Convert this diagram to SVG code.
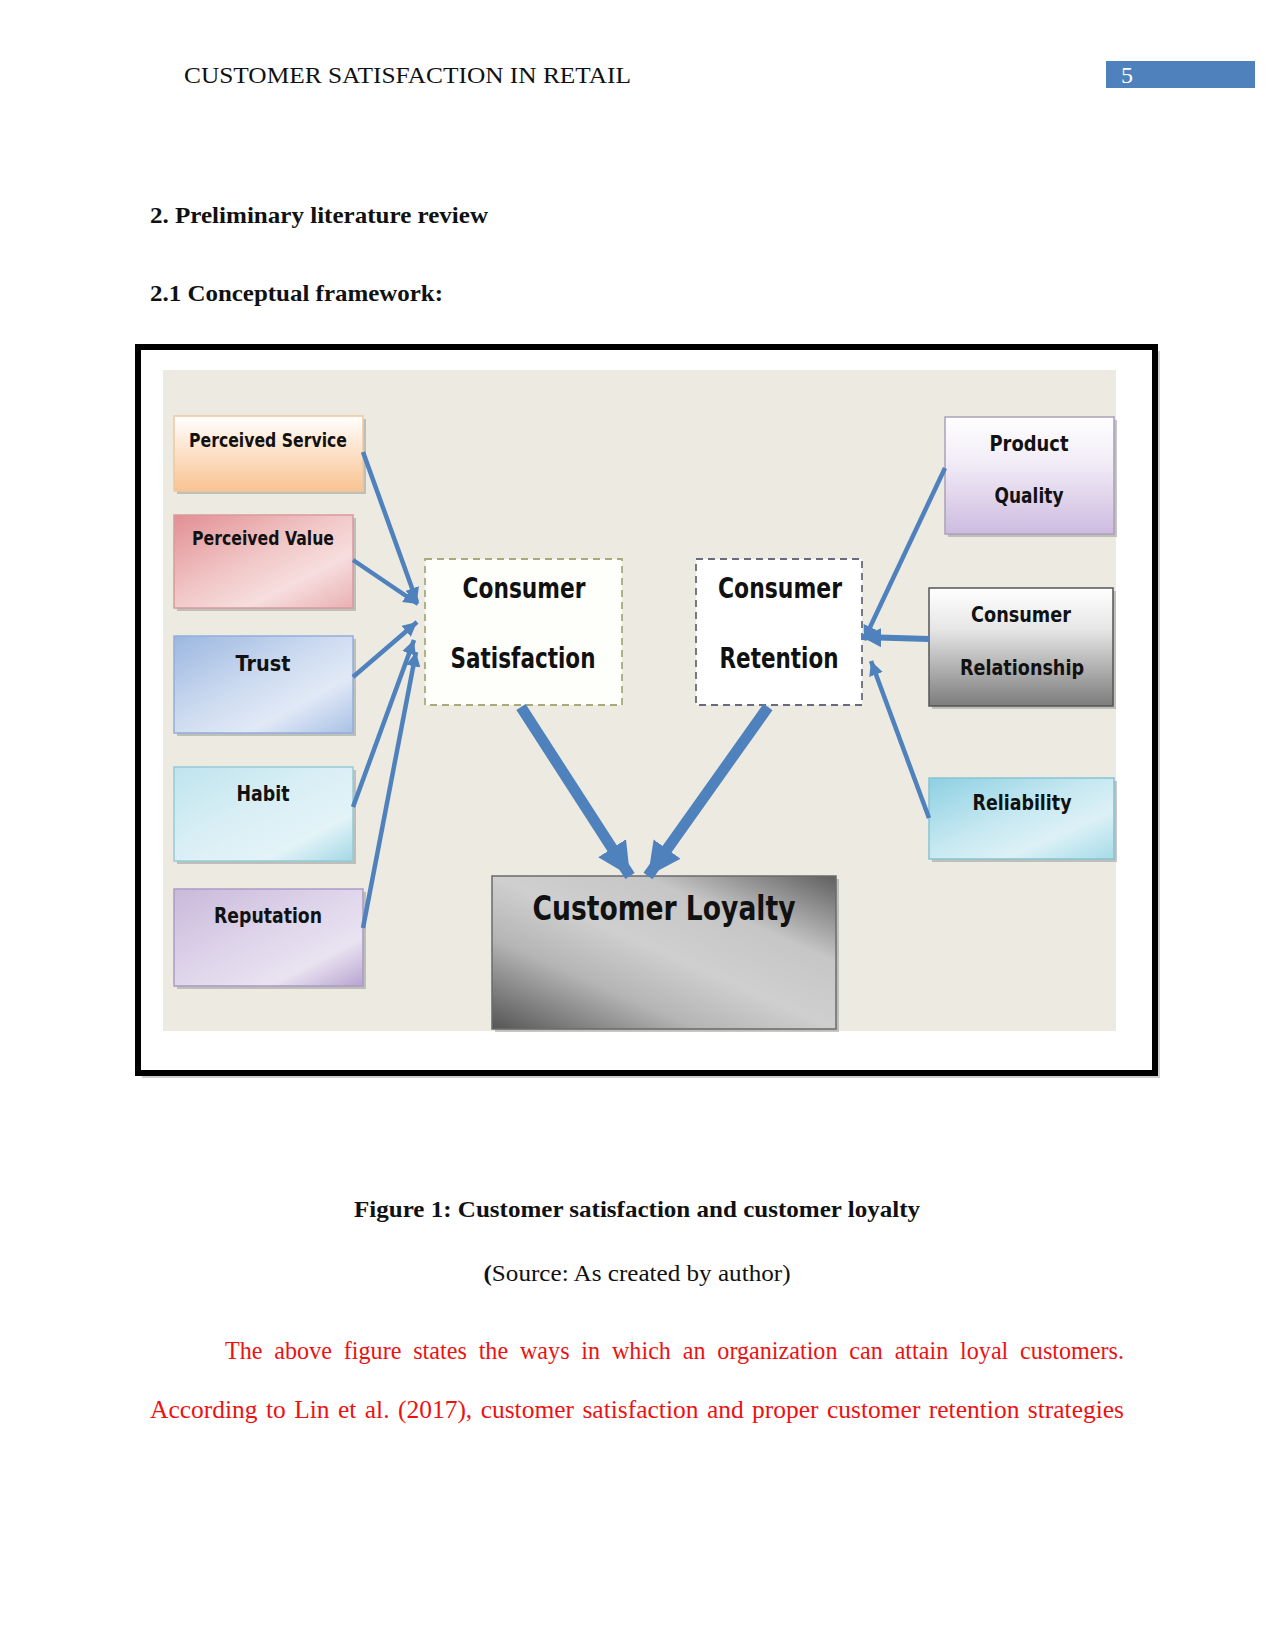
<svg xmlns="http://www.w3.org/2000/svg" width="1275" height="1650" viewBox="0 0 1275 1650">
<defs>
<style>
.serif{font-family:"Liberation Serif","Times New Roman",serif;}
.lbl{font-family:"DejaVu Sans","Verdana",sans-serif;font-weight:bold;fill:#111;text-anchor:middle;}
.conn{stroke:#4F81BD;fill:none;stroke-linecap:butt;}
.box{stroke-width:1.5;}
.shadow{fill:#9a9a9a;opacity:0.55;}
</style>
<marker id="ah" viewBox="0 0 10 10" refX="10" refY="5" markerWidth="3.2" markerHeight="3.2" orient="auto" markerUnits="strokeWidth">
<path d="M0,0 L10,5 L0,10 Z" fill="#4F81BD"/>
</marker>
<marker id="ahb" viewBox="0 0 10 10" refX="10" refY="5" markerWidth="3" markerHeight="3.2" orient="auto" markerUnits="strokeWidth">
<path d="M0,0 L10,5 L0,10 Z" fill="#4F81BD"/>
</marker>
<linearGradient id="gPS" x1="0" y1="0" x2="0" y2="1">
<stop offset="0" stop-color="#ffffff"/><stop offset="0.45" stop-color="#fde3cc"/><stop offset="1" stop-color="#f9c391"/>
</linearGradient>
<linearGradient id="gPV" x1="0" y1="0" x2="1" y2="1">
<stop offset="0" stop-color="#e28f93"/><stop offset="0.45" stop-color="#f1c6c6"/><stop offset="0.7" stop-color="#f7dede"/><stop offset="1" stop-color="#e9b0b2"/>
</linearGradient>
<linearGradient id="gTR" x1="0" y1="0" x2="1" y2="1">
<stop offset="0" stop-color="#9bb7e0"/><stop offset="0.45" stop-color="#cddbf0"/><stop offset="0.7" stop-color="#e1e9f6"/><stop offset="1" stop-color="#a9c1e6"/>
</linearGradient>
<linearGradient id="gHA" x1="0" y1="0" x2="1" y2="1">
<stop offset="0" stop-color="#bfe4ee"/><stop offset="0.45" stop-color="#d9eff5"/><stop offset="0.75" stop-color="#e3f3f8"/><stop offset="1" stop-color="#a2d8e5"/>
</linearGradient>
<linearGradient id="gRE" x1="0" y1="0" x2="1" y2="1">
<stop offset="0" stop-color="#c8b9da"/><stop offset="0.45" stop-color="#ded4ea"/><stop offset="0.75" stop-color="#e9e3f1"/><stop offset="1" stop-color="#b8a4d0"/>
</linearGradient>
<linearGradient id="gPQ" x1="0" y1="0" x2="0" y2="1">
<stop offset="0" stop-color="#ffffff"/><stop offset="0.4" stop-color="#f1ebf6"/><stop offset="1" stop-color="#cdbbe0"/>
</linearGradient>
<linearGradient id="gCR" x1="0" y1="0" x2="0" y2="1">
<stop offset="0" stop-color="#ffffff"/><stop offset="0.35" stop-color="#e6e6e6"/><stop offset="1" stop-color="#7c7c7c"/>
</linearGradient>
<linearGradient id="gRL" x1="0" y1="0" x2="1" y2="1">
<stop offset="0" stop-color="#8dd0e2"/><stop offset="0.45" stop-color="#c6e8f1"/><stop offset="0.7" stop-color="#dcf1f6"/><stop offset="1" stop-color="#a6dbe8"/>
</linearGradient>
<linearGradient id="gCL" x1="0" y1="1" x2="1" y2="0">
<stop offset="0" stop-color="#555555"/><stop offset="0.3" stop-color="#b5b5b5"/><stop offset="0.5" stop-color="#cfcfcf"/><stop offset="0.72" stop-color="#c6c6c6"/><stop offset="1" stop-color="#5f5f5f"/>
</linearGradient>
</defs>

<rect x="0" y="0" width="1275" height="1650" fill="#ffffff"/>

<!-- header -->
<g id="header">
<text class="serif" x="184" y="83" font-size="24" fill="#111" textLength="447" lengthAdjust="spacingAndGlyphs">CUSTOMER SATISFACTION IN RETAIL</text>
<rect x="1106" y="61" width="149" height="27" fill="#4F81BD"/>
<text class="serif" x="1121" y="83" font-size="24" fill="#ffffff">5</text>
</g>

<g id="headings">
<text class="serif" x="150" y="223" font-size="24" font-weight="bold" fill="#111" textLength="338" lengthAdjust="spacingAndGlyphs">2. Preliminary literature review</text>
<text class="serif" x="150" y="301" font-size="24" font-weight="bold" fill="#111" textLength="293" lengthAdjust="spacingAndGlyphs">2.1 Conceptual framework:</text>
</g>

<!-- figure frame -->
<g id="frame">
<rect x="142" y="351" width="1018" height="727" fill="#a0a0a0" opacity="0.5"/>
<rect x="138" y="347" width="1017" height="726" fill="#ffffff" stroke="#000000" stroke-width="6"/>
<rect x="163" y="370" width="953" height="661" fill="#eceae1"/>
</g>

<!-- left nodes -->
<g id="perceived-service">
<rect class="shadow" x="177" y="419" width="189" height="75"/>
<rect class="box" x="174" y="416" width="189" height="75" fill="url(#gPS)" stroke="#f0c8a0"/>
<text class="lbl" x="268" y="447" font-size="20" textLength="158" lengthAdjust="spacingAndGlyphs">Perceived Service</text>
</g>
<g id="perceived-value">
<rect class="shadow" x="177" y="518" width="179" height="93"/>
<rect class="box" x="174" y="515" width="179" height="93" fill="url(#gPV)" stroke="#d99a9c"/>
<text class="lbl" x="263" y="545" font-size="20" textLength="142" lengthAdjust="spacingAndGlyphs">Perceived Value</text>
</g>
<g id="trust">
<rect class="shadow" x="177" y="639" width="179" height="97"/>
<rect class="box" x="174" y="636" width="179" height="97" fill="url(#gTR)" stroke="#93aedb"/>
<text class="lbl" x="263" y="671" font-size="22" textLength="55" lengthAdjust="spacingAndGlyphs">Trust</text>
</g>
<g id="habit">
<rect class="shadow" x="177" y="770" width="179" height="94"/>
<rect class="box" x="174" y="767" width="179" height="94" fill="url(#gHA)" stroke="#94cbd9"/>
<text class="lbl" x="263" y="801" font-size="22" textLength="53" lengthAdjust="spacingAndGlyphs">Habit</text>
</g>
<g id="reputation">
<rect class="shadow" x="177" y="892" width="189" height="97"/>
<rect class="box" x="174" y="889" width="189" height="97" fill="url(#gRE)" stroke="#ad9ac6"/>
<text class="lbl" x="268" y="923" font-size="22" textLength="108" lengthAdjust="spacingAndGlyphs">Reputation</text>
</g>

<!-- center nodes -->
<g id="consumer-satisfaction">
<rect x="425" y="559" width="197" height="146" fill="#fefefa" stroke="#a9aa7c" stroke-width="1.8" stroke-dasharray="7,5"/>
<text class="lbl" x="524" y="598" font-size="29" textLength="123" lengthAdjust="spacingAndGlyphs">Consumer</text>
<text class="lbl" x="523" y="668" font-size="29" textLength="145" lengthAdjust="spacingAndGlyphs">Satisfaction</text>
</g>
<g id="consumer-retention">
<rect x="696" y="559" width="166" height="146" fill="#ffffff" stroke="#6a6a7c" stroke-width="1.8" stroke-dasharray="7,5"/>
<text class="lbl" x="780" y="598" font-size="29" textLength="124" lengthAdjust="spacingAndGlyphs">Consumer</text>
<text class="lbl" x="779" y="668" font-size="29" textLength="119" lengthAdjust="spacingAndGlyphs">Retention</text>
</g>
<g id="customer-loyalty">
<rect class="shadow" x="495" y="879" width="344" height="153"/>
<rect class="box" x="492" y="876" width="344" height="153" fill="url(#gCL)" stroke="#6b6b6b"/>
<text class="lbl" x="664" y="920" font-size="34" textLength="263" lengthAdjust="spacingAndGlyphs">Customer Loyalty</text>
</g>

<!-- right nodes -->
<g id="product-quality">
<rect class="shadow" x="948" y="420" width="169" height="117"/>
<rect class="box" x="945" y="417" width="169" height="117" fill="url(#gPQ)" stroke="#a9a3b8"/>
<text class="lbl" x="1029" y="451" font-size="22" textLength="79" lengthAdjust="spacingAndGlyphs">Product</text>
<text class="lbl" x="1029" y="503" font-size="22" textLength="69" lengthAdjust="spacingAndGlyphs">Quality</text>
</g>
<g id="consumer-relationship">
<rect class="shadow" x="932" y="591" width="184" height="118"/>
<rect class="box" x="929" y="588" width="184" height="118" fill="url(#gCR)" stroke="#555555"/>
<text class="lbl" x="1021" y="622" font-size="21" textLength="100" lengthAdjust="spacingAndGlyphs">Consumer</text>
<text class="lbl" x="1022" y="675" font-size="21" textLength="124" lengthAdjust="spacingAndGlyphs">Relationship</text>
</g>
<g id="reliability">
<rect class="shadow" x="932" y="781" width="185" height="81"/>
<rect class="box" x="929" y="778" width="185" height="81" fill="url(#gRL)" stroke="#86c3d4"/>
<text class="lbl" x="1022" y="810" font-size="22" textLength="99" lengthAdjust="spacingAndGlyphs">Reliability</text>
</g>

<!-- connectors -->
<g id="connectors">
<line class="conn" x1="363" y1="452" x2="417" y2="602" stroke-width="4.5" marker-end="url(#ah)"/>
<line class="conn" x1="353" y1="560" x2="418" y2="604" stroke-width="4.5" marker-end="url(#ah)"/>
<line class="conn" x1="353" y1="677" x2="417" y2="622" stroke-width="4.5" marker-end="url(#ah)"/>
<line class="conn" x1="353" y1="807" x2="414" y2="640" stroke-width="4.5" marker-end="url(#ah)"/>
<line class="conn" x1="363" y1="928" x2="416" y2="652" stroke-width="4.5" marker-end="url(#ah)"/>
<line class="conn" x1="945" y1="468" x2="864" y2="640" stroke-width="4.5" marker-end="url(#ah)"/>
<line class="conn" x1="929" y1="639" x2="862" y2="637" stroke-width="6" marker-end="url(#ah)"/>
<line class="conn" x1="929" y1="818" x2="871" y2="661" stroke-width="4.5" marker-end="url(#ah)"/>
<line class="conn" x1="521" y1="707" x2="630" y2="876" stroke-width="11" marker-end="url(#ahb)"/>
<line class="conn" x1="768" y1="707" x2="648" y2="876" stroke-width="11" marker-end="url(#ahb)"/>
</g>

<!-- caption and body -->
<g id="caption">
<text class="serif" x="637" y="1217" font-size="24" font-weight="bold" fill="#111" text-anchor="middle" textLength="566" lengthAdjust="spacingAndGlyphs">Figure 1: Customer satisfaction and customer loyalty</text>
<text class="serif" x="637" y="1281" font-size="24" fill="#111" text-anchor="middle" textLength="307" lengthAdjust="spacingAndGlyphs"><tspan font-weight="bold">(</tspan>Source: As created by author)</text>
</g>
<g id="body">
<text class="serif" x="225" y="1359" font-size="25" fill="#ee1111" word-spacing="6" textLength="899" lengthAdjust="spacingAndGlyphs">The above figure states the ways in which an organization can attain loyal customers.</text>
<text class="serif" x="150" y="1418" font-size="25" fill="#ee1111" word-spacing="2" textLength="974" lengthAdjust="spacingAndGlyphs">According to Lin et al. (2017), customer satisfaction and proper customer retention strategies</text>
</g>
</svg>
